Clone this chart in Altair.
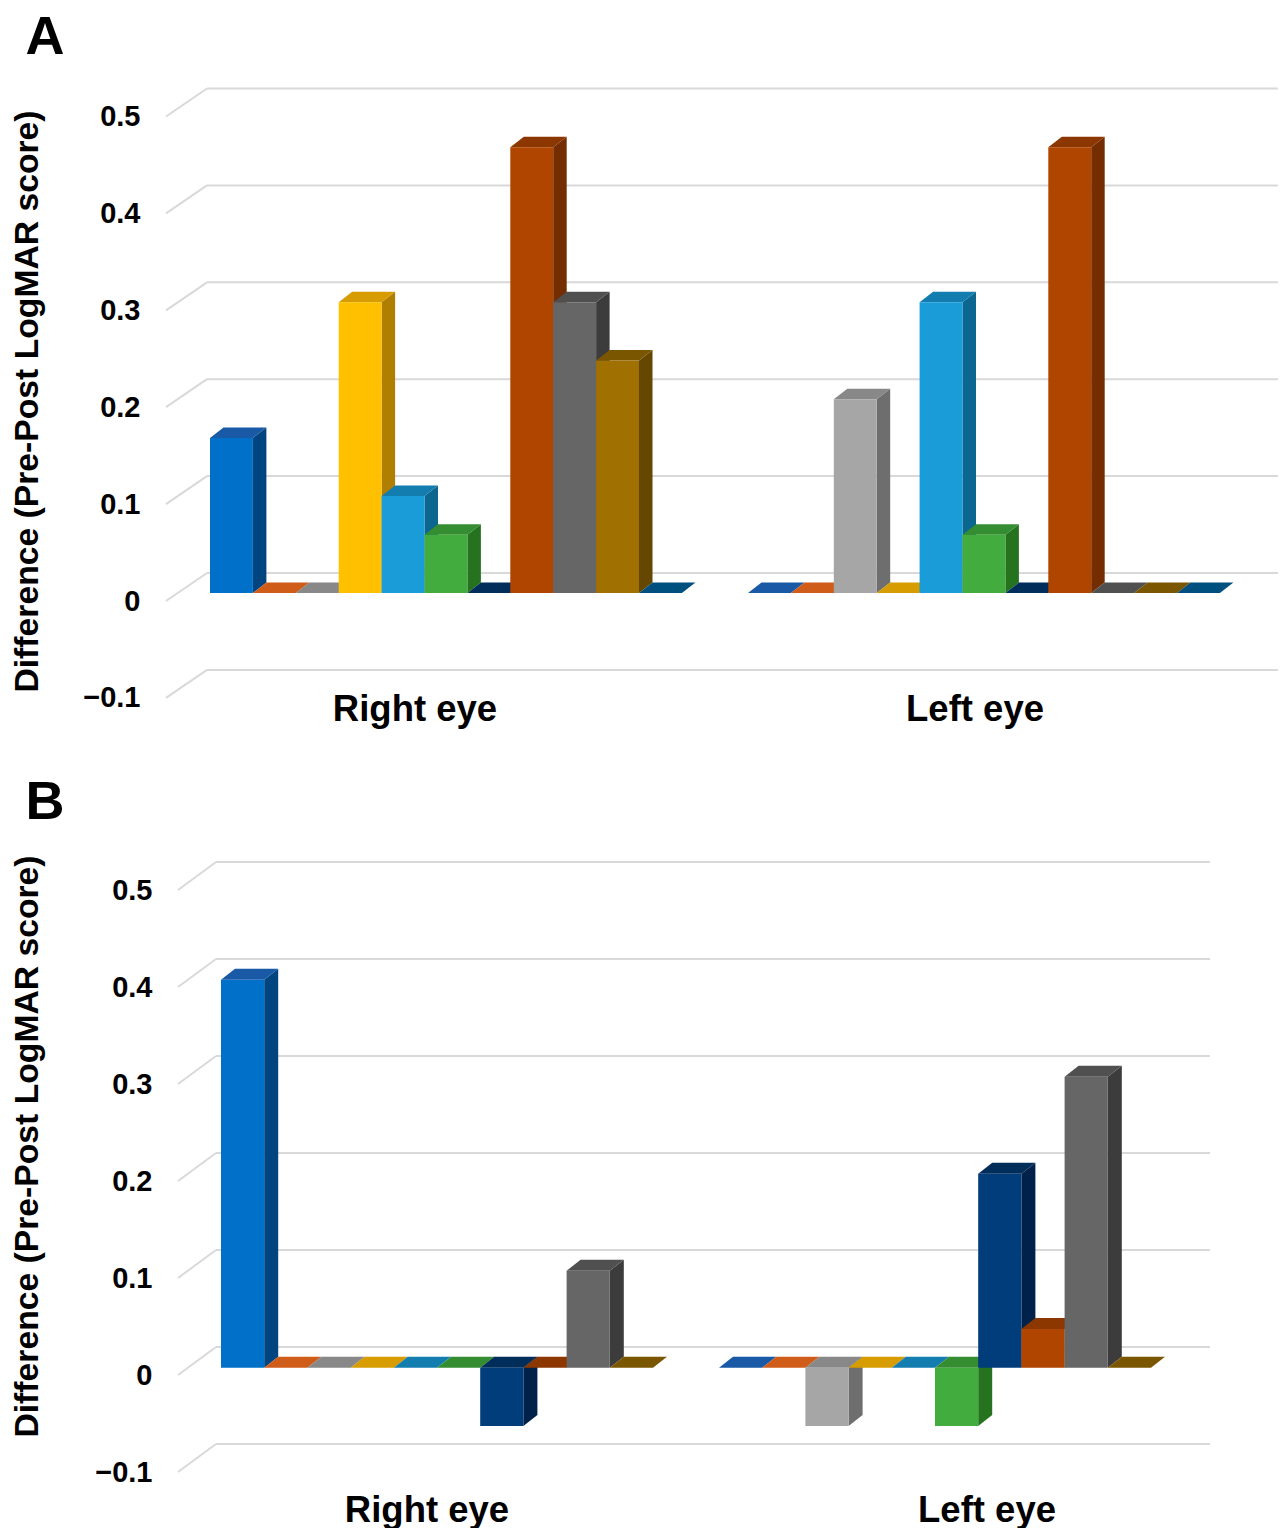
import altair as alt
import pandas as pd

# ---------------- data ----------------
categories = ["Right eye", "Left eye"]
y_ticks = [-0.1, 0.0, 0.1, 0.2, 0.3, 0.4, 0.5]
y_title = "Difference (Pre-Post LogMAR score)"
panel_letters = ["A", "B"]

a_right = [0.16, 0.0, 0.0, 0.30, 0.10, 0.06, 0.0, 0.46, 0.30, 0.24, 0.0]
a_left = [0.0, 0.0, 0.20, 0.0, 0.30, 0.06, 0.0, 0.46, 0.0, 0.0, 0.0]
b_right = [0.40, 0.0, 0.0, 0.0, 0.0, 0.0, -0.06, 0.0, 0.10, 0.0]
b_left = [0.0, 0.0, -0.06, 0.0, 0.0, -0.06, 0.20, 0.04, 0.30, 0.0]

# ---------------- styles ----------------
front_colors = ["#0070C8", "#E0641E", "#A6A6A6", "#FFC000", "#1A9CD8", "#43AC3E",
                "#003D7A", "#B04500", "#666666", "#A07000", "#005A8C"]
side_colors = ["#00457F", "#9A4515", "#6E6E6E", "#B07E00", "#0B6690", "#25731F",
               "#00224A", "#732D00", "#3C3C3C", "#664700", "#003A5C"]
top_colors = ["#1959A6", "#D05C1A", "#888888", "#D69C00", "#137DB0", "#358D31",
              "#002D5A", "#8C3600", "#505050", "#7A5600", "#00507F"]

FONT = "Liberation Sans"
GRID = "#D9D9D9"

layout_a = dict(left=166, top=70, width=1115, height=670, slot=42.9, zero_px=600, ppu=969,
                group_px=[210, 748], wall_front=166, wall_back=207, grid_end=1278,
                wall_dy=28, base_dy=8, bar_dx=13.5, bar_dy=10.5,
                label_px=[415, 975], label_base=720, letter=(45, 53),
                label_pad=26, title_center=(27, 400))
layout_b = dict(left=166, top=845, width=1115, height=683, slot=43.2, zero_px=1374, ppu=970,
                group_px=[221, 719], wall_front=178, wall_back=216, grid_end=1210,
                wall_dy=28, base_dy=7.3, bar_dx=14, bar_dy=11,
                label_px=[427, 987], label_base=1521, letter=(45, 818),
                label_pad=14, title_center=(27, 1145))


def panel(letter, groups, L):
    xu = lambda px: (px - L["left"]) / L["slot"]
    yv = lambda py: (L["zero_px"] - py) / L["ppu"]
    xdom = [0, L["width"] / L["slot"]]
    ydom = [yv(L["top"] + L["height"]), yv(L["top"])]
    xs = alt.Scale(domain=xdom, nice=False, zero=False)
    ys = alt.Scale(domain=ydom, nice=False, zero=False)

    base = L["base_dy"] / L["ppu"]
    dxu = L["bar_dx"] / L["slot"]
    dyv = L["bar_dy"] / L["ppu"]
    wall = L["wall_dy"] / L["ppu"]

    fronts, sides, tops = [], [], []
    for g, vals in enumerate(groups):
        start = xu(L["group_px"][g])
        for i, v in enumerate(vals):
            fid = f"{g}-{i}"
            x0 = start + i
            x1 = x0 + 1
            lo, hi = base + min(v, 0), base + max(v, 0)
            if v != 0:
                fronts.append(dict(x=x0, x2=x1, y=lo, y2=hi, c=front_colors[i]))
                sides.append(dict(f=fid, x=x1, y=lo, y2=hi, c=side_colors[i]))
                sides.append(dict(f=fid, x=x1 + dxu, y=lo + dyv, y2=hi + dyv, c=side_colors[i]))
            tops.append(dict(f=fid, y=hi, x=x0, x2=x1, c=top_colors[i]))
            tops.append(dict(f=fid, y=hi + dyv, x=x0 + dxu, x2=x1 + dxu, c=top_colors[i]))

    grid_rows = []
    for t in y_ticks:
        grid_rows.append(dict(x=xu(L["wall_front"]), x2=xu(L["wall_back"]), y=t, y2=t + wall))
        grid_rows.append(dict(x=xu(L["wall_back"]), x2=xu(L["grid_end"]), y=t + wall, y2=t + wall))

    axis = alt.Axis(values=y_ticks, format=".1~f", title=y_title, domain=False, ticks=False,
                    tickSize=0, grid=False, labelFont=FONT, labelFontSize=29,
                    labelFontWeight="bold", labelColor="#000000", labelPadding=L["label_pad"],
                    titleFont=FONT, titleFontSize=33.7, titleFontWeight="bold", titleColor="#000000",
                    titleAngle=270, titleBaseline="middle", titleAlign="center",
                    titleX=L["title_center"][0] - L["left"],
                    titleY=L["title_center"][1] - L["top"])

    def Y(field, **kw):
        return alt.Y(field, scale=ys, axis=axis, **kw)

    grid = alt.Chart(pd.DataFrame(grid_rows)).mark_rule(color=GRID, strokeWidth=2).encode(
        x=alt.X("x:Q", scale=xs, axis=None), x2="x2:Q",
        y=Y("y:Q"), y2="y2:Q")

    side = alt.Chart(pd.DataFrame(sides)).mark_area(orient="vertical").encode(
        x=alt.X("x:Q", scale=xs, axis=None),
        y=Y("y:Q", stack=None), y2="y2:Q",
        detail="f:N", color=alt.Color("c:N", scale=None))

    top = alt.Chart(pd.DataFrame(tops)).mark_area(orient="horizontal").encode(
        y=Y("y:Q"),
        x=alt.X("x:Q", scale=xs, axis=None, stack=None), x2="x2:Q",
        detail="f:N", color=alt.Color("c:N", scale=None))

    front = alt.Chart(pd.DataFrame(fronts)).mark_rect().encode(
        x=alt.X("x:Q", scale=xs, axis=None), x2="x2:Q",
        y=Y("y:Q"), y2="y2:Q",
        color=alt.Color("c:N", scale=None))

    lab_df = pd.DataFrame(dict(t=categories, x=[xu(p) for p in L["label_px"]],
                               y=[yv(L["label_base"])] * 2))
    labels = alt.Chart(lab_df).mark_text(font=FONT, fontSize=36.5, fontWeight="bold",
                                          color="#000000", baseline="alphabetic",
                                          align="center").encode(
        x=alt.X("x:Q", scale=xs, axis=None), y=Y("y:Q"), text="t:N")

    let_df = pd.DataFrame(dict(t=[letter], x=[xu(L["letter"][0])], y=[yv(L["letter"][1])]))
    let = alt.Chart(let_df).mark_text(font=FONT, fontSize=54, fontWeight="bold",
                                       color="#000000", baseline="alphabetic",
                                       align="center").encode(
        x=alt.X("x:Q", scale=xs, axis=None), y=Y("y:Q"), text="t:N")

    return alt.layer(grid, side, top, front, labels, let).properties(
        width=L["width"], height=L["height"])


pa = panel(panel_letters[0], [a_right, a_left], layout_a)
pb = panel(panel_letters[1], [b_right, b_left], layout_b)

chart = alt.vconcat(pa, pb, spacing=35).properties(
    padding={"left": 10, "top": 10, "right": 0, "bottom": 0}, background="#FFFFFF"
).configure_view(stroke=None)

chart.save("out.html", embed_options={"renderer": "svg", "actions": False})
